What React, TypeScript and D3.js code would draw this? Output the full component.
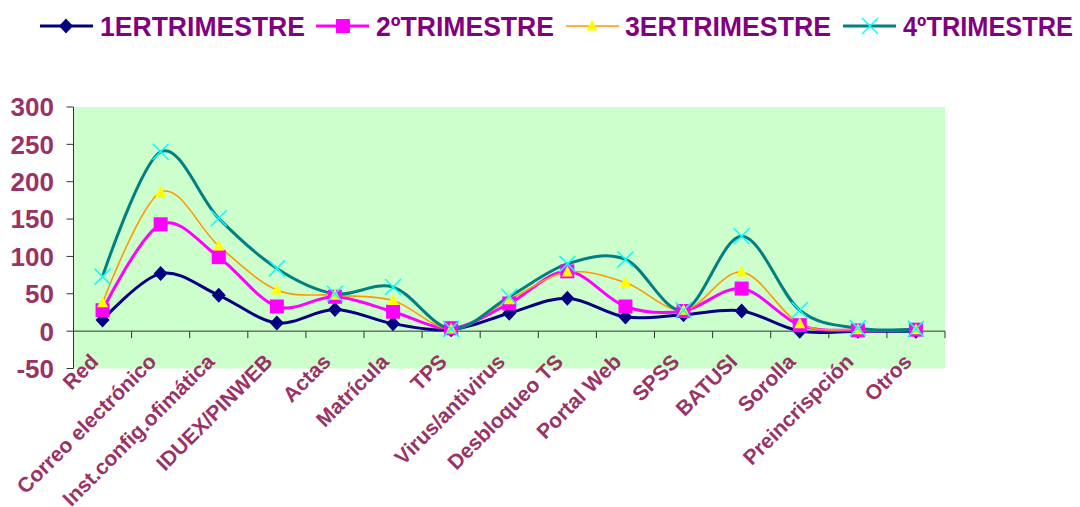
import React from 'react';
import * as d3 from 'd3';

const categories = [
  'Red', 'Correo electrónico', 'Inst.config.ofimática', 'IDUEX/PINWEB', 'Actas',
  'Matrícula', 'TPS', 'Virus/antivirus', 'Desbloqueo TS', 'Portal Web',
  'SPSS', 'BATUSI', 'Sorolla', 'Preincrispción', 'Otros',
];

const trimestre1 = [15, 77, 48, 11, 29, 10, 2, 24, 44, 19, 22, 27, 0, 0, 0];
const trimestre2 = [28, 143, 99, 33, 46, 26, 4, 37, 80, 33, 27, 57, 8, 1, 2];
const trimestre3 = [38, 186, 114, 55, 48, 41, 3, 42, 79, 65, 28, 79, 10, 2, 2];
const trimestre4 = [73, 240, 151, 84, 50, 59, 3, 46, 90, 96, 28, 127, 28, 4, 3];

const seriesNames = ['1ERTRIMESTRE', '2ºTRIMESTRE', '3ERTRIMESTRE', '4ºTRIMESTRE'];
const yTicks = [-50, 0, 50, 100, 150, 200, 250, 300];

const W = 1080;
const H = 507;
const plot = { left: 73.5, right: 945, top: 107, bottom: 368.5 };

const styles = [
  { line: '#000080', width: 3, marker: 'diamond', fill: '#000080' },
  { line: '#FF00FF', width: 3, marker: 'square', fill: '#FF00FF' },
  { line: '#FF9900', width: 1.6, marker: 'triangle', fill: '#FFFF00' },
  { line: '#008080', width: 3, marker: 'x', fill: '#00FFFF' },
];

const Marker = ({ kind, x, y, fill }: { kind: string; x: number; y: number; fill: string }) => {
  if (kind === 'diamond') {
    return <path d={`M${x},${y - 7.5}L${x + 7},${y}L${x},${y + 7.5}L${x - 7},${y}Z`} fill={fill} />;
  }
  if (kind === 'square') {
    return <rect x={x - 7} y={y - 7} width={14} height={14} fill={fill} />;
  }
  if (kind === 'triangle') {
    return <path d={`M${x},${y - 6.5}L${x + 5.5},${y + 4.5}L${x - 5.5},${y + 4.5}Z`} fill={fill} />;
  }
  return (
    <path
      d={`M${x - 8},${y - 8}L${x + 8},${y + 8}M${x + 8},${y - 8}L${x - 8},${y + 8}`}
      stroke={fill}
      strokeWidth={1.5}
    />
  );
};

export default function App() {
  const data = [trimestre1, trimestre2, trimestre3, trimestre4];

  const x = d3
    .scaleBand()
    .domain(categories)
    .range([plot.left, plot.right]);

  const y = d3.scaleLinear().domain([-50, 300]).range([plot.bottom, plot.top]);

  const line = d3
    .line<number>()
    .x((_, i) => x(categories[i])! + x.bandwidth() / 2)
    .y((d) => y(d))
    .curve(d3.curveCardinal.tension(0));

  const labelColor = '#993366';
  const legendColor = '#800080';
  const legendItems = [
    { lx: 40, mx: 66, tx: 100, tw: 205 },
    { lx: 316, mx: 343, tx: 376, tw: 178 },
    { lx: 566, mx: 592, tx: 625, tw: 206 },
    { lx: 843, mx: 870, tx: 903, tw: 170 },
  ];

  return (
    <svg
      width={W}
      height={H}
      style={{ position: 'absolute', left: 0, top: 0, background: '#fff' }}
      fontFamily="'Liberation Sans', Arial, sans-serif"
    >
      {/* legend */}
      {legendItems.map((it, i) => (
        <g key={i}>
          <line x1={it.lx} x2={it.lx + 53} y1={26} y2={26} stroke={styles[i].line} strokeWidth={styles[i].width} />
          <Marker kind={styles[i].marker} x={it.mx} y={26} fill={styles[i].fill} />
          <text
            x={it.tx}
            y={36}
            fontSize={27}
            fontWeight="bold"
            fill={legendColor}
            textLength={it.tw}
            lengthAdjust="spacingAndGlyphs"
          >
            {seriesNames[i]}
          </text>
        </g>
      ))}

      {/* plot background */}
      <rect x={plot.left} y={plot.top} width={plot.right - plot.left} height={plot.bottom - plot.top} fill="#CCFFCC" />

      {/* y axis */}
      <line x1={plot.left} x2={plot.left} y1={plot.top} y2={plot.bottom} stroke="#333" strokeWidth={1} />
      {yTicks.map((t) => (
        <g key={t}>
          <line x1={plot.left - 7} x2={plot.left} y1={y(t)} y2={y(t)} stroke="#333" />
          <text
            x={54}
            y={y(t)}
            dy="0.36em"
            textAnchor="end"
            fontSize={26}
            fontWeight="bold"
            fill={labelColor}
          >
            {t}
          </text>
        </g>
      ))}

      {/* x axis at zero */}
      <line x1={plot.left} x2={plot.right} y1={y(0)} y2={y(0)} stroke="#333" />
      {categories.map((c, i) => (
        <line
          key={'t' + i}
          x1={x(c)! + x.bandwidth()}
          x2={x(c)! + x.bandwidth()}
          y1={y(0)}
          y2={y(0) + 7}
          stroke="#333"
        />
      ))}
      {categories.map((c) => {
        const cx = x(c)! + x.bandwidth() / 2;
        return (
          <text
            key={c}
            transform={`translate(${cx - 3},${363}) rotate(-45)`}
            textAnchor="end"
            fontSize={21}
            fontWeight="bold"
            fill={labelColor}
          >
            {c}
          </text>
        );
      })}

      {/* series */}
      {data.map((s, i) => (
        <path key={'l' + i} d={line(s)!} fill="none" stroke={styles[i].line} strokeWidth={styles[i].width} />
      ))}
      {data.map((s, i) =>
        s.map((v, j) => (
          <Marker
            key={`m${i}-${j}`}
            kind={styles[i].marker}
            x={x(categories[j])! + x.bandwidth() / 2}
            y={y(v)}
            fill={styles[i].fill}
          />
        ))
      )}
    </svg>
  );
}
